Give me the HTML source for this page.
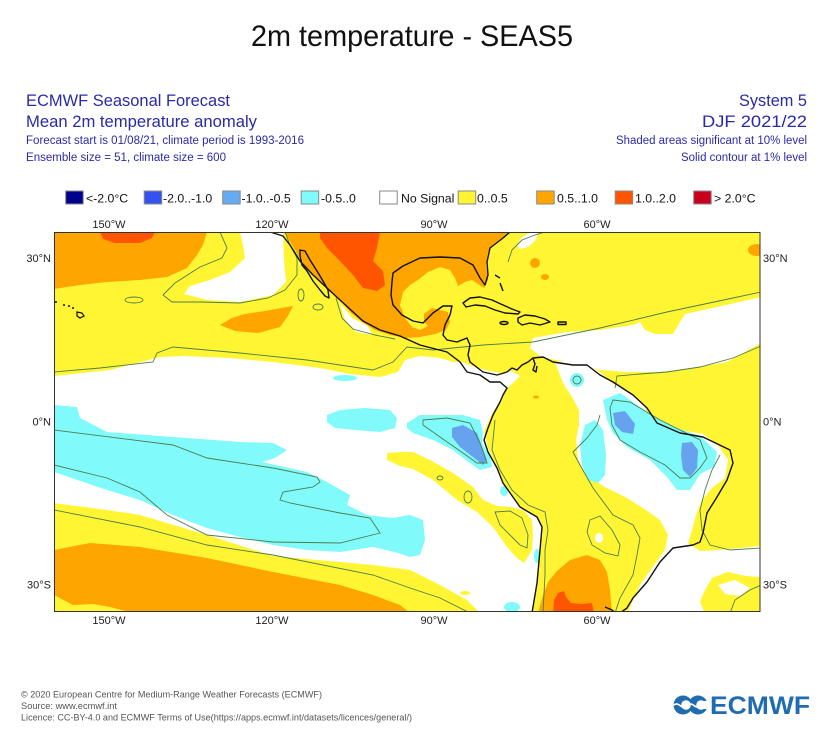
<!DOCTYPE html>
<html><head><meta charset="utf-8"><style>
html,body{margin:0;padding:0;background:#fff;}
svg{display:block;font-family:"Liberation Sans",Arial,sans-serif;}
</style></head><body>
<svg width="834" height="750" viewBox="0 0 834 750" xmlns="http://www.w3.org/2000/svg">
<rect width="834" height="750" fill="#fff"/>
<defs><clipPath id="mc"><rect x="54.5" y="232.5" width="705.5" height="379"/></clipPath></defs>

<!-- Title -->
<text x="251" y="46" font-size="30" fill="#111" textLength="322" lengthAdjust="spacingAndGlyphs">2m temperature - SEAS5</text>

<!-- Header left -->
<g fill="#2a2aa8">
<text x="26" y="106" font-size="16.5" textLength="204" lengthAdjust="spacingAndGlyphs">ECMWF Seasonal Forecast</text>
<text x="26" y="127" font-size="16.5" textLength="231" lengthAdjust="spacingAndGlyphs">Mean 2m temperature anomaly</text>
<text x="26" y="144" font-size="11.5" textLength="278" lengthAdjust="spacingAndGlyphs">Forecast start is 01/08/21, climate period is 1993-2016</text>
<text x="26" y="161" font-size="11.5" textLength="200" lengthAdjust="spacingAndGlyphs">Ensemble size = 51, climate size = 600</text>
<!-- Header right -->
<text x="739" y="106" font-size="16.5" textLength="68" lengthAdjust="spacingAndGlyphs">System 5</text>
<text x="702" y="127" font-size="16.5" textLength="105" lengthAdjust="spacingAndGlyphs">DJF 2021/22</text>
<text x="616" y="144" font-size="11.5" textLength="191" lengthAdjust="spacingAndGlyphs">Shaded areas significant at 10% level</text>
<text x="681" y="161" font-size="11.5" textLength="126" lengthAdjust="spacingAndGlyphs">Solid contour at 1% level</text>
</g>

<!-- Legend -->
<g stroke="#8a8a8a" stroke-width="1">
<rect x="65.7" y="191" width="17.5" height="13" fill="#00008c"/>
<rect x="144.2" y="191" width="17.5" height="13" fill="#3352f0"/>
<rect x="222.7" y="191" width="17.5" height="13" fill="#66aaf2"/>
<rect x="301.2" y="191" width="17.5" height="13" fill="#80fafa"/>
<rect x="379.7" y="191" width="17.5" height="13" fill="#ffffff"/>
<rect x="458.2" y="191" width="17.5" height="13" fill="#fff533"/>
<rect x="536.7" y="191" width="17.5" height="13" fill="#ffa500"/>
<rect x="615.2" y="191" width="17.5" height="13" fill="#ff5500"/>
<rect x="693.7" y="191" width="17.5" height="13" fill="#c8001e"/>
</g>
<g font-size="12.3" fill="#111">
<text x="86" y="202.5">&lt;-2.0°C</text>
<text x="163" y="202.5">-2.0..-1.0</text>
<text x="241.5" y="202.5">-1.0..-0.5</text>
<text x="321" y="202.5">-0.5..0</text>
<text x="401" y="202.5">No Signal</text>
<text x="477" y="202.5">0..0.5</text>
<text x="557" y="202.5">0.5..1.0</text>
<text x="635" y="202.5">1.0..2.0</text>
<text x="714" y="202.5">&gt; 2.0°C</text>
</g>

<!-- Map -->
<g clip-path="url(#mc)">
<rect x="54" y="232" width="707" height="381" fill="#fff533"/>
<g fill="#ffffff">
<polygon points="240,232 283,232 284,260 286,282 273,295 240,302 207,300 184,294 190,286 210,280 230,272 245,258 243,245"/>
<polygon points="340,303 345,320 356,332 372,335 368,326 352,318"/>
<polygon points="54,376 110,370 160,357 183,356 230,358 273,362 320,368 350,374 380,377 398,372 405,360 420,356 440,358 453,362 462,362 472,366 485,370 500,373 512,371 520,376 512,384 505,390 500,400 490,418 484,432 488,448 497,468 503,483 520,507 537,517 542,527 540,550 537,583 532,613 54,613"/>
<polygon points="533,338 567,332 600,330 633,325 640,322 645,330 655,334 673,334 680,322 685,314 717,307 761,297 761,343 745,352 727,362 693,368 660,372 627,372 600,370 575,362 555,360 540,356 530,348"/>
<polygon points="555,362 575,360 590,366 600,372 612,383 627,390 643,404 650,417 662,424 680,430 703,434 718,445 728,460 725,478 712,488 702,500 696,515 692,530 688,543 700,551 720,550 740,548 761,546 761,577 745,576 728,572 713,578 705,590 700,602 705,613 628,613 633,600 640,585 652,568 665,550 668,535 660,520 643,508 625,497 605,487 587,476 578,460 576,440 579,425 579,410 572,397 563,383"/>
<polygon points="517,245 522,237 530,233 538,233 536,240 528,247 520,249"/>
</g>
<g fill="#fff533">
<polygon points="54,503 107,510 140,515 207,535 273,556 340,562 373,565 410,570 440,585 467,600 480,613 54,613"/>
<polygon points="387,453 400,452 413,452 430,460 453,473 473,487 483,500 497,506 510,507 523,510 532,520 533,535 532,550 524,563 517,558 507,547 493,527 477,512 457,500 433,480 413,469 400,466 387,460"/>
<ellipse cx="465" cy="593" rx="5" ry="2"/>
<polygon points="712,578 728,572 745,576 761,577 761,613 705,613 700,602 705,590"/>
</g>
<g fill="#ffffff">
<ellipse cx="599" cy="538" rx="4" ry="5"/>
<polygon points="718,585 735,580 750,588 740,596 725,594"/>
</g>
<g fill="#ffa500">
<polygon points="54,232 207,232 203,245 197,255 187,268 167,277 140,280 107,282 80,285 54,289"/>
<polygon points="220,325 232,318 245,314 265,311 293,306 288,316 280,327 258,333 235,331"/>
<polygon points="285,232 510,232 505,236 495,243 488,252 486,265 488,280 484,288 478,284 472,280 465,282 458,286 455,278 450,270 440,267 428,272 418,280 410,285 403,292 400,305 405,318 412,327 420,330 428,326 432,316 440,310 448,312 450,322 446,330 435,334 420,337 405,338 390,335 375,330 362,322 350,312 340,300 328,290 317,278 305,266 296,252 289,240"/>
<polygon points="54,550 90,543 140,547 207,558 273,572 340,585 373,595 400,605 410,613 133,613 110,607 93,604 73,605 54,595"/>
<polygon points="538,613 543,595 548,582 557,571 570,560 587,555 600,560 607,572 610,590 612,613"/>
<ellipse cx="535" cy="263" rx="5" ry="5"/>
<ellipse cx="545" cy="277" rx="4" ry="3"/>
<ellipse cx="757" cy="250" rx="9" ry="6"/>
<ellipse cx="536" cy="397" rx="3" ry="1.5"/>
</g>
<polygon fill="#fff533" points="410,287 420,280 430,274 442,270 450,273 456,286 465,292 468,302 462,312 452,318 450,310 442,306 432,308 425,318 418,322 412,312 409,300"/>
<polygon fill="#ffa500" points="424,314 432,308 440,310 444,318 440,326 430,328 424,322"/>
<g fill="#ff5500">
<polygon points="100,232 155,232 152,238 140,243 115,243 103,239"/>
<polygon points="320,232 380,232 377,248 373,261 383,271 385,285 377,291 363,288 353,275 340,261 327,248 320,238"/>
<polygon points="553,613 554,600 558,593 564,591 566,597 571,603 582,604 592,603 594,613"/>
</g>
<g fill="#80fafa">
<polygon points="54,405 77,407 80,418 107,432 173,437 240,442 273,443 287,450 275,458 262,462 307,472 327,482 350,495 347,505 367,515 393,518 410,515 423,520 425,540 420,555 410,557 395,552 373,547 340,552 307,550 273,545 240,537 207,528 173,515 140,500 107,490 54,472"/>
<polygon points="327,415 340,410 365,408 390,410 397,418 395,428 380,432 355,430 335,428 327,422"/>
<polygon points="407,423 420,415 463,415 480,420 483,433 482,443 490,457 492,467 480,470 470,463 453,450 433,440 413,433 407,428"/>
<ellipse cx="577" cy="380" rx="7" ry="7"/>
<polygon points="603,400 620,393 637,405 653,416 677,428 700,436 717,452 714,467 700,474 690,490 677,490 667,477 650,460 627,447 613,433 607,420"/>
<polygon points="585,425 595,420 603,430 606,455 605,475 598,483 588,480 582,465 580,445"/>
<ellipse cx="504" cy="491" rx="4" ry="5"/>
<ellipse cx="537" cy="556" rx="3" ry="7"/>
<ellipse cx="512" cy="607" rx="8" ry="5"/>
<ellipse cx="345" cy="378" rx="12" ry="3"/>
</g>
<g fill="#66a2ee">
<polygon points="452,428 463,425 477,433 482,447 487,460 483,465 473,457 460,447 452,437"/>
<polygon points="613,413 625,411 635,424 633,434 622,432 615,425"/>
<polygon points="682,443 692,442 698,450 697,468 690,477 683,470 681,455"/>
</g>
<g fill="none" stroke="#4d7d4d" stroke-width="0.9">
<polyline points="220,232 227,248 222,258 200,267 175,283 163,295 172,302 200,302 240,303 268,298 285,290 297,275 297,258 290,245 285,232"/>
<ellipse cx="134" cy="300" rx="9" ry="3"/>
<ellipse cx="318" cy="307" rx="5" ry="3"/>
<ellipse cx="301" cy="295" rx="3" ry="6"/>
<polyline points="54,372 100,368 153,362 157,353 173,347 240,353 307,360 373,370 393,362 407,347 433,350 483,345 533,342 600,328 667,312 733,298 761,292"/>
<polyline points="336,298 342,318 353,329 375,335 395,339"/>
<polyline points="508,262 512,250 522,240 535,235 545,232"/>
<polyline points="615,388 617,376 640,374 667,372 700,367 733,358 761,346"/>
<polyline points="54,430 173,445 207,458 273,468 317,477 320,482 313,487 283,492 280,500 290,503 340,513 370,518 380,533 340,543 273,542 207,535 167,515 140,492 107,478 54,465"/>
<polyline points="54,510 140,527 207,545 273,555 373,575 410,588 440,598 470,613"/>
<polygon points="423,420 447,418 470,423 480,443 487,463 477,463 463,453 440,437 423,425"/>
<polygon points="613,400 630,402 660,420 700,440 707,458 700,468 690,478 680,478 665,465 640,452 620,440 612,425 610,408"/>
<ellipse cx="577" cy="380" rx="4" ry="4"/>
<polygon points="495,512 510,511 522,518 528,535 527,548 520,545 510,535 500,525"/>
<ellipse cx="440" cy="478" rx="3" ry="2"/>
<ellipse cx="468" cy="497" rx="4" ry="6"/>
<polyline points="495,420 492,450 500,470 512,490 528,505 545,512 548,530 545,550 545,575 543,613"/>
<polyline points="600,415 597,425 587,438 573,452 580,465 593,488 613,515 633,525 640,538 637,555 633,575 620,598 615,613"/>
<polygon points="590,520 600,516 612,530 620,545 618,556 605,553 592,545 587,532"/>
<polyline points="720,455 712,470 705,490 700,510 702,530 710,545 730,550 761,548"/>
<polyline points="730,613 735,600 750,590 761,585"/>
</g>
<g fill="none" stroke="#111" stroke-width="1.4" stroke-linejoin="round">
<polyline points="270,232 283,236 290,245 300,261 313,275 327,288 340,300 352,311 363,321 380,330 400,336 420,345 447,352 460,362 467,372 480,375 490,382 500,382 507,388 503,395 500,402 493,415 488,428 484,440 488,452 497,468 503,483 520,507 537,517 542,527 540,550 537,583 532,613"/>
<polygon points="300,250 305,251 310,260 317,271 323,281 328,290 329,298 325,296 320,290 313,281 307,271 302,265 300,256"/>
<polyline points="510,232 503,238 490,248 487,262 488,275 485,285 480,278 473,265 460,258 440,257 420,258 403,266 393,273 392,282 391,295 393,305 402,315 413,321 423,323 433,313 443,306 452,306 450,315 445,325 443,335 447,340 457,342 467,338 470,345 468,355 470,362 483,372 497,375 507,372 512,368 517,370 522,365 528,362 533,358 543,357 553,362 573,365 587,365 600,375 613,382 633,395 647,408 657,423 680,433 703,437 730,450 733,463 727,480 717,497 707,513 703,533 700,542 693,545 673,548 660,562 647,582 633,598 627,608 620,613"/>
<polygon points="463,303 470,298 480,297 492,300 503,305 512,309 520,312 518,314 505,313 495,310 485,306 475,305 466,307"/>
<ellipse cx="504" cy="323" rx="4" ry="1.5"/>
<polygon points="518,318 525,315 535,316 545,319 550,322 540,325 530,323 522,325 518,322"/>
<rect x="558" y="322" width="8" height="2.5"/>
<polyline points="495,275 500,278"/>
<polyline points="500,283 503,291"/>
<polyline points="533,358 535,364 533,370 536,372 537,366"/>
<polyline points="605,607 612,610 616,613"/>
</g>
<g fill="#111">
<circle cx="56" cy="302" r="1"/><circle cx="64" cy="305" r="1"/><circle cx="69" cy="306" r="1"/><circle cx="73" cy="308" r="1"/>
</g>
<polygon points="77,312 82,313 84,316 80,318 77,316" fill="none" stroke="#111" stroke-width="1.2"/>
</g>
<rect x="54.5" y="232.5" width="705.5" height="379" fill="none" stroke="#333" stroke-width="1"/>

<g font-size="11" fill="#222" text-anchor="middle">
<text x="109" y="228">150°W</text><text x="272" y="228">120°W</text><text x="434" y="228">90°W</text><text x="597" y="228">60°W</text>
<text x="109" y="624">150°W</text><text x="272" y="624">120°W</text><text x="434" y="624">90°W</text><text x="597" y="624">60°W</text>
</g>
<g font-size="11" fill="#222" text-anchor="end">
<text x="51" y="262">30°N</text><text x="51" y="425.5">0°N</text><text x="51" y="588.5">30°S</text>
</g>
<g font-size="11" fill="#222">
<text x="763" y="262">30°N</text><text x="763" y="425.5">0°N</text><text x="763" y="588.5">30°S</text>
</g>

<g font-size="9.5" fill="#555">
<text x="21" y="697.5" textLength="301" lengthAdjust="spacingAndGlyphs">© 2020 European Centre for Medium-Range Weather Forecasts (ECMWF)</text>
<text x="21" y="709" textLength="96" lengthAdjust="spacingAndGlyphs">Source: www.ecmwf.int</text>
<text x="21" y="720.5" textLength="391" lengthAdjust="spacingAndGlyphs">Licence: CC-BY-4.0 and ECMWF Terms of Use(https://apps.ecmwf.int/datasets/licences/general/)</text>
</g>

<g fill="#1f6db0">
<circle cx="683" cy="705" r="9.5"/><circle cx="698" cy="705" r="9.5"/>
</g>
<g fill="#fff">
<circle cx="686" cy="705" r="4.8"/><circle cx="701" cy="705" r="4.8"/>
<rect x="703" y="701" width="6" height="8"/>
</g>
<path d="M673 705.5 q3.5 -3 7 0 t7 0 t7 0 t7 0 t7 0" stroke="#fff" stroke-width="1.8" fill="none"/>
<text x="710" y="714" font-size="25" font-weight="bold" fill="#1f6db0" textLength="100" lengthAdjust="spacingAndGlyphs">ECMWF</text>
</svg>
</body></html>
